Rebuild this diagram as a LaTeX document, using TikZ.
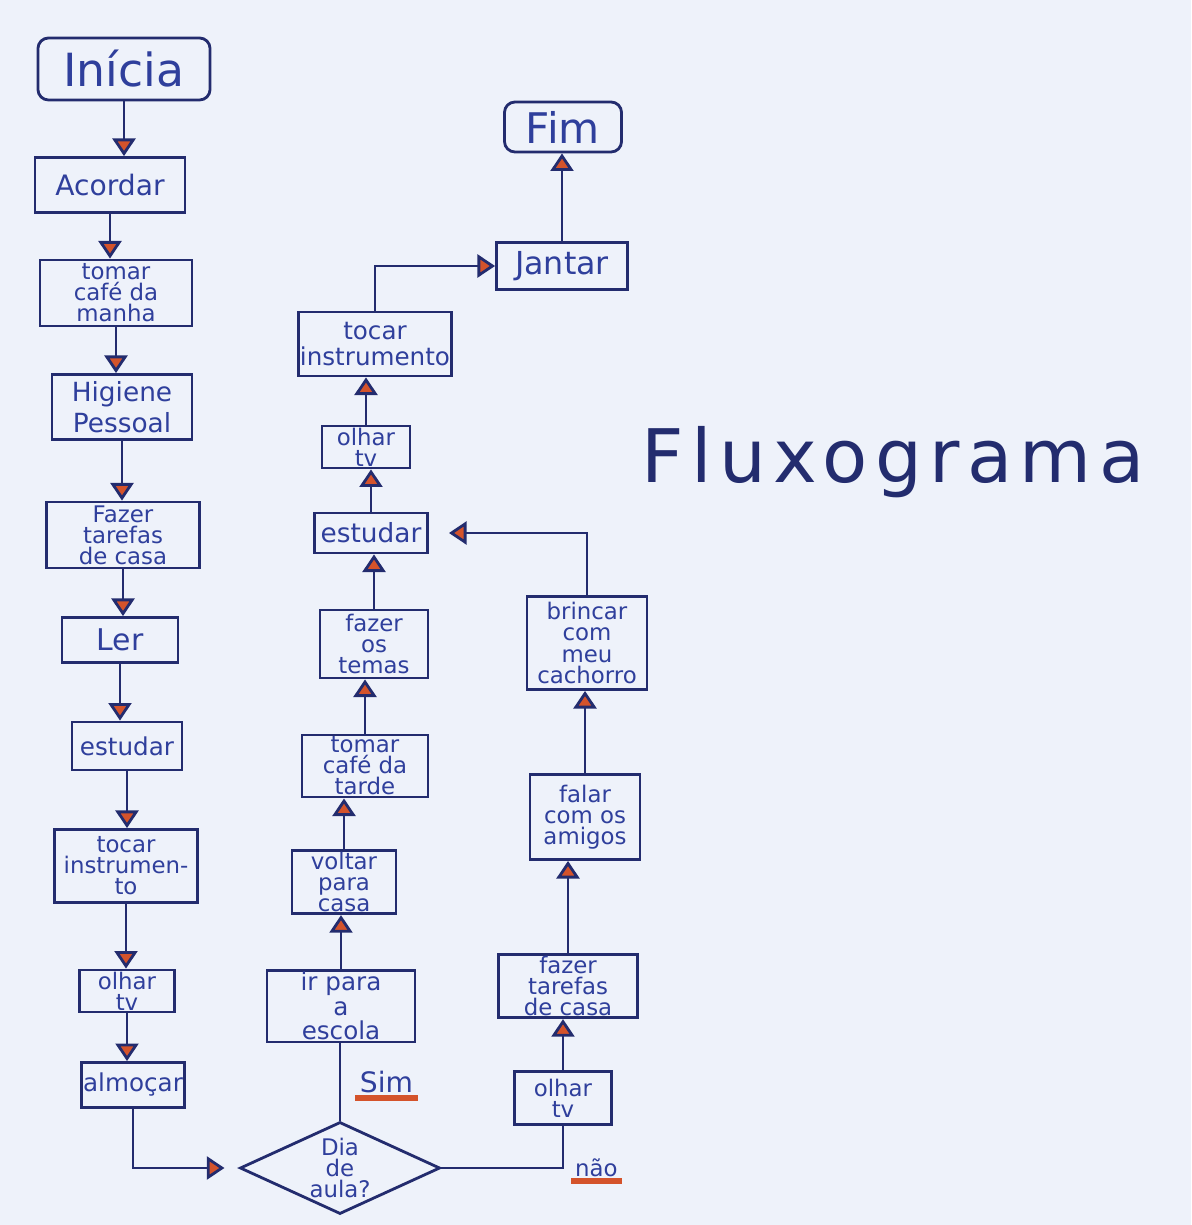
\documentclass[tikz,border=0pt]{standalone}
\usepackage{fontspec}
\setmainfont{DejaVu Sans}
\newfontfamily\titlefont[LetterSpace=10]{DejaVu Sans}
\usepackage{tikz}
\usetikzlibrary{positioning}
\usetikzlibrary{shapes.geometric}
\usetikzlibrary{arrows.meta}
\usepackage{xcolor}
\definecolor{paper}{HTML}{EEF2FA}
\definecolor{ink}{HTML}{232C6E}
\definecolor{pen}{HTML}{2F3F9C}
\definecolor{tipred}{HTML}{D4532B}

\begin{document}
\begin{tikzpicture}[
    x=0.01cm, y=-0.01cm,
    box/.style={rectangle, draw=ink, line width=0.8pt, text=pen, inner sep=0.5pt, align=center, font=\fontsize{6.5}{6}\selectfont},
    endbox/.style={box, rounded corners=3pt},
    decision/.style={diamond, draw=ink, line width=0.8pt, text=pen, aspect=2.2, inner sep=0pt, align=center, font=\fontsize{6.5}{6}\selectfont},
    sz/.style 2 args={minimum width=#1cm, minimum height=#2cm},
    flow/.style={draw=ink, line width=0.8pt},
    answer/.style={text=pen, inner sep=1pt},
    >={Triangle[length=5pt, width=6.5pt, fill=tipred]}
]
    % Paper
    \fill[paper] (0,0) rectangle (1191,1225);
    \useasboundingbox (0,0) rectangle (1191,1225);

    % Left column (morning)
    \node[endbox, sz={1.72}{0.62}, font=\fontsize{13}{14}\selectfont] (inicia) at (124,69) {Inícia};
    \node[box, sz={1.50}{0.55}, font=\fontsize{8}{9}\selectfont] (acordar) at (110,185) {Acordar};
    \node[box, sz={1.52}{0.66}] (cafemanha) at (116,293) {tomar\\café da\\manha};
    \node[box, sz={1.40}{0.65}, font=\fontsize{7.5}{9}\selectfont] (higiene) at (122,407) {Higiene\\Pessoal};
    \node[box, sz={1.53}{0.66}] (tarefas1) at (123,535) {Fazer\\tarefas\\de casa};
    \node[box, sz={1.16}{0.45}, font=\fontsize{8.5}{9}\selectfont] (ler) at (120,640) {Ler};
    \node[box, sz={1.10}{0.48}, font=\fontsize{7}{8}\selectfont] (estudar1) at (127,746) {estudar};
    \node[box, sz={1.43}{0.73}] (tocar1) at (126,866) {tocar\\instrumen-\\to};
    \node[box, sz={0.95}{0.42}] (olhar1) at (127,991) {olhar\\tv};
    \node[box, sz={1.00}{0.45}, font=\fontsize{7}{8}\selectfont] (almocar) at (133,1085) {almoçar};

    \draw[flow,->] (inicia) -- (inicia |- acordar.north);
    \draw[flow,->] (acordar) -- (acordar |- cafemanha.north);
    \draw[flow,->] (cafemanha) -- (cafemanha |- higiene.north);
    \draw[flow,->] (higiene) -- (higiene |- tarefas1.north);
    \draw[flow,->] (tarefas1) -- (tarefas1 |- ler.north);
    \draw[flow,->] (ler) -- (ler |- estudar1.north);
    \draw[flow,->] (estudar1) -- (estudar1 |- tocar1.north);
    \draw[flow,->] (tocar1) -- (tocar1 |- olhar1.north);
    \draw[flow,->] (olhar1) -- (olhar1 |- almocar.north);

    % Decision
    \node[decision, sz={2.00}{0.92}] (dia) at (340,1168) {Dia\\de\\aula?};
    \draw[flow,->, shorten >=4pt] (almocar.south) |- (dia.west);

    % Yes: school day
    \node[box, sz={1.48}{0.63}, font=\fontsize{7}{7}\selectfont] (escola) at (341,1006) {ir para\\a\\escola};
    \draw[flow] (dia.north) -- (dia.north |- escola.south)
        node[answer, midway, right=1.5mm, font=\fontsize{8}{9}\selectfont] (sim) {Sim};
    \draw[tipred, line width=1.6pt] (sim.south west) -- (sim.south east);

    \node[box, sz={1.04}{0.55}] (voltar) at (344,882) {voltar\\para\\casa};
    \node[box, sz={1.26}{0.62}] (cafetarde) at (365,766) {tomar\\café da\\tarde};
    \node[box, sz={1.08}{0.68}] (temas) at (374,644) {fazer\\os\\temas};
    \node[box, sz={1.13}{0.40}, font=\fontsize{7.5}{8}\selectfont] (estudar2) at (371,533) {estudar};
    \node[box, sz={0.88}{0.40}] (olhar2) at (366,447) {olhar\\tv};
    \node[box, sz={1.20}{0.64}, font=\fontsize{7}{7.5}\selectfont] (tocar2) at (375,344) {tocar\\instrumento};
    \node[box, sz={1.31}{0.47}, font=\fontsize{9}{10}\selectfont] (jantar) at (562,266) {Jantar};
    \node[endbox, sz={1.17}{0.50}, font=\fontsize{12}{13}\selectfont] (fim) at (563,127) {Fim};

    \draw[flow,->] (escola) -- (escola |- voltar.south);
    \draw[flow,->] (voltar) -- (voltar |- cafetarde.south);
    \draw[flow,->] (cafetarde) -- (cafetarde |- temas.south);
    \draw[flow,->] (temas) -- (temas |- estudar2.south);
    \draw[flow,->] (estudar2) -- (estudar2 |- olhar2.south);
    \draw[flow,->] (olhar2) -- (olhar2 |- tocar2.south);
    \draw[flow,->] (tocar2.north) |- (jantar.west);
    \draw[flow,->] (jantar) -- (jantar |- fim.south);

    % No: day off
    \node[box, sz={0.97}{0.53}] (olhar3) at (563,1098) {olhar\\tv};
    \node[box, sz={1.39}{0.63}] (tarefas2) at (568,986) {fazer\\tarefas\\de casa};
    \node[box, sz={1.10}{0.85}] (falar) at (585,817) {falar\\com os\\amigos};
    \node[box, sz={1.20}{0.93}] (brincar) at (587,643) {brincar\\com\\meu\\cachorro};

    \coordinate (turn) at (dia.east -| olhar3.south);
    \draw[flow] (dia.east) -- (turn) -- (olhar3.south);
    \node[answer, right=0.8mm of turn, font=\fontsize{6.5}{7}\selectfont] (nao) {não};
    \draw[tipred, line width=1.6pt] (nao.south west) -- (nao.south east);

    \draw[flow,->] (olhar3) -- (olhar3 |- tarefas2.south);
    \draw[flow,->] (tarefas2) -- (tarefas2 |- falar.south);
    \draw[flow,->] (falar) -- (falar |- brincar.south);
    \draw[flow,->, shorten >=0.2cm] (brincar.north) |- (estudar2.east);

    % Title
    \node[text=ink, font=\titlefont\fontsize{21}{24}\selectfont] (titulo) at (893,462) {Fluxograma};
\end{tikzpicture}
\end{document}
